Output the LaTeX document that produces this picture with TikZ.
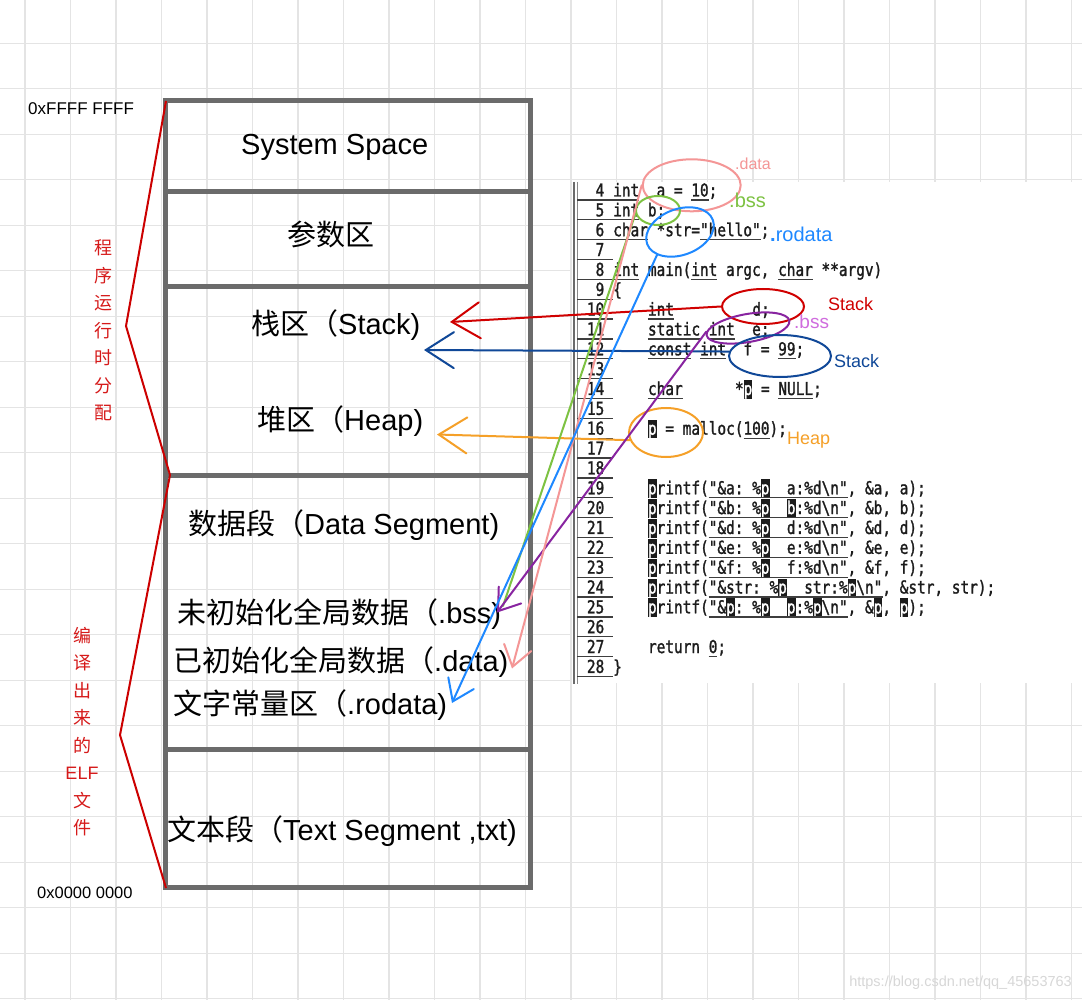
\documentclass[tikz,border=0pt]{standalone}
\usepackage{fontspec}
\setmainfont{Liberation Sans}
\newfontfamily\cjk{Noto Sans CJK SC}
\newfontfamily\codefont[FakeStretch=0.81,FakeBold=1.4]{DejaVu Sans Mono}
\usetikzlibrary{shapes.geometric,arrows.meta}
\definecolor{gridc}{RGB}{228,228,228}
\definecolor{boxc}{RGB}{107,107,107}
\definecolor{brk}{RGB}{204,0,0}
\definecolor{redtxt}{RGB}{214,26,26}
\definecolor{pinkc}{RGB}{244,150,150}
\definecolor{greenc}{RGB}{125,194,66}
\definecolor{bluec}{RGB}{30,136,255}
\definecolor{redc}{RGB}{208,0,0}
\definecolor{purc}{RGB}{136,36,160}
\definecolor{purl}{RGB}{208,108,222}
\definecolor{dbluec}{RGB}{16,72,152}
\definecolor{orc}{RGB}{245,160,40}
\definecolor{codec}{RGB}{28,28,28}
\definecolor{wmc}{RGB}{215,215,215}
\tikzset{
  gridline/.style={gridc, line width=1.3pt},
  boxline/.style={boxc, line width=5pt},
  boxtxt/.style={anchor=base west, inner sep=0pt, font=\fontsize{29}{34}\selectfont},
  addr/.style={anchor=base west, inner sep=0pt},
  redcol/.style={align=center, text=redtxt, inner sep=0pt, font=\cjk\fontsize{18}{27.5}\selectfont},
  codetxt/.style={anchor=base west, inner sep=0pt, text=codec, font=\codefont\fontsize{17.8}{20}\selectfont},
  codeund/.style={codec!85, line width=1.3pt},
  ell/.style={ellipse, line width=2pt, inner sep=0pt},
  lbl/.style={anchor=base west, inner sep=0pt},
  arrline/.style={line width=2pt, line cap=round, line join=round},
  bigtip/.style={-{Straight Barb[length=28pt,width=36pt,line cap=round]}},
  smalltip/.style={-{Straight Barb[length=20pt,width=28pt,line cap=round]}}
}
\newcommand\codeat[4]{\node[codetxt] (#1) at ({613+#3*8.7},{196.5+(#2-4)*19.85}) {#4};}
\newcommand\codeul[3]{\draw[codeund] ({613+#2*8.7},{200+(#1-4)*19.85}) -- ({613+(#3+1)*8.7},{200+(#1-4)*19.85});}
\newcommand\hp[1]{{\setlength{\fboxsep}{0pt}\colorbox{codec}{\rule[-3.7pt]{0pt}{18.7pt}\textcolor{white}{#1}}}}
\begin{document}
\begin{tikzpicture}[x=1pt,y=-1pt]
\useasboundingbox (0,0) rectangle (1082,1000);
\fill[white] (0,0) rectangle (1082,1000);
% grid
\foreach \i in {0,...,23} {\draw[gridline] ({25+\i*45.5},0) -- ({25+\i*45.5},1000);}
\foreach \j in {0,...,21} {\draw[gridline] (0,{43.3+\j*45.5}) -- (1082,{43.3+\j*45.5});}

% code screenshot
\fill[white] (572,182) rectangle (1082,683);
\draw[boxc, line width=1.6pt] (574,182) -- (574,684);
\draw[boxc!80, line width=1pt] (577.5,182) -- (577.5,684);
\foreach \k in {4,...,28} {
  \node[codetxt, anchor=base east] (n\k) at (604.5,{196.5+(\k-4)*19.85}) {\k};
  \draw[codeund] (577,{200+(\k-4)*19.85}) -- (613,{200+(\k-4)*19.85});
}
\codeat{c4}{4}{0}{int\ \ a\ =\ 10;}
\codeat{c5}{5}{0}{int\ b;}
\codeat{c6}{6}{0}{char\ *str="hello";}
\codeat{c8}{8}{0}{int\ main(int\ argc,\ char\ **argv)}
\codeat{c9}{9}{0}{\{}
\codeat{c10a}{10}{4}{int}
\codeat{c10b}{10}{16}{d;}
\codeat{c11}{11}{4}{static\ int\ \ e;}
\codeat{c12}{12}{4}{const\ int\ \ f\ =\ 99;}
\codeat{c14a}{14}{4}{char}
\codeat{c14b}{14}{14}{*\hp{p}\ =\ NULL;}
\codeat{c16}{16}{4}{\hp{p}\ =\ malloc(100);}
\codeat{c19}{19}{4}{\hp{p}rintf("\&a:\ \%\hp{p}\ \ a:\%d\textbackslash n",\ \&a,\ a);}
\codeat{c20}{20}{4}{\hp{p}rintf("\&b:\ \%\hp{p}\ \ \hp{b}:\%d\textbackslash n",\ \&b,\ b);}
\codeat{c21}{21}{4}{\hp{p}rintf("\&d:\ \%\hp{p}\ \ d:\%d\textbackslash n",\ \&d,\ d);}
\codeat{c22}{22}{4}{\hp{p}rintf("\&e:\ \%\hp{p}\ \ e:\%d\textbackslash n",\ \&e,\ e);}
\codeat{c23}{23}{4}{\hp{p}rintf("\&f:\ \%\hp{p}\ \ f:\%d\textbackslash n",\ \&f,\ f);}
\codeat{c24}{24}{4}{\hp{p}rintf("\&str:\ \%\hp{p}\ \ str:\%\hp{p}\textbackslash n",\ \&str,\ str);}
\codeat{c25}{25}{4}{\hp{p}rintf("\&\hp{p}:\ \%\hp{p}\ \ \hp{p}:\%\hp{p}\textbackslash n",\ \&\hp{p},\ \hp{p});}
\codeat{c27}{27}{4}{return\ 0;}
\codeat{c28}{28}{0}{\}}
% underlines
\codeul{4}{0}{2} \codeul{4}{9}{10}
\codeul{5}{0}{2}
\codeul{6}{0}{3} \codeul{6}{10}{16}
\codeul{8}{0}{2} \codeul{8}{9}{11} \codeul{8}{19}{22}
\codeul{10}{4}{6}
\codeul{11}{4}{9} \codeul{11}{11}{13}
\codeul{12}{4}{8} \codeul{12}{10}{12} \codeul{12}{19}{20}
\codeul{14}{4}{7} \codeul{14}{19}{22}
\codeul{16}{15}{17}
\foreach \k in {19,20,21,22,23,25} {\codeul{\k}{11}{26}}
\codeul{24}{11}{30}
\codeul{27}{11}{11}

% memory layout box
\draw[boxline] (165,101) rectangle (530,887);
\draw[boxline] (165,191.5) -- (530,191.5);
\draw[boxline] (165,286.5) -- (530,286.5);
\draw[boxline] (165,475) -- (530,475);
\draw[boxline] (165,749) -- (533,749);

\node[boxtxt] (tSys) at (241,155) {System Space};
\node[boxtxt] (tArg) at (287,246) {\cjk 参数区};
\node[boxtxt] (tStack) at (251,335) {{\cjk 栈区（}Stack)};
\node[boxtxt] (tHeap) at (257,430) {{\cjk 堆区（}Heap)};
\node[boxtxt] (tData) at (188,534) {{\cjk 数据段（}Data Segment)};
\node[boxtxt] (tBss) at (177,623) {{\cjk 未初始化全局数据（}.bss)};
\node[boxtxt] (tDat) at (173,671.5) {{\cjk 已初始化全局数据（}.data)};
\node[boxtxt] (tRo) at (173,714) {{\cjk 文字常量区（}.rodata)};
\node[boxtxt] (tText) at (167,840) {{\cjk 文本段（}Text Segment ,txt)};

% addresses
\node[addr, font=\fontsize{17}{20}\selectfont] (aTop) at (28,115) {0xFFFF FFFF};
\node[addr, font=\fontsize{16.5}{20}\selectfont] (aBot) at (37,898) {0x0000 0000};

% red brackets and labels
\draw[brk, line width=2pt, line join=miter] (166,101) -- (126,326) -- (170,475) -- (120,735) -- (166,888);
\node[redcol] (rRun) at (103,330.5) {程\\序\\运\\行\\时\\分\\配};
\node[redcol] (rElf) at (82,731.5) {编\\译\\出\\来\\的\\{\rmfamily ELF}\\文\\件};

% ellipses in the listing
\node[ell, draw=pinkc, minimum width=98pt, minimum height=52pt] (ePink) at (691.7,185.3) {};
\node[ell, draw=greenc, minimum width=44pt, minimum height=29pt] (eGreen) at (658,210.5) {};
\node[ell, draw=bluec, minimum width=70pt, minimum height=46pt, rotate=20] (eBlue) at (680,232) {};
\node[ell, draw=redc, minimum width=82pt, minimum height=35pt] (eRed) at (763,306.5) {};
\node[ell, draw=purc, minimum width=84pt, minimum height=28pt, rotate=10] (ePur) at (748,328) {};
\node[ell, draw=dbluec, minimum width=102pt, minimum height=42pt] (eDB) at (780,356) {};
\node[ell, draw=orc, minimum width=74pt, minimum height=49pt] (eOr) at (666,432.5) {};

% labels
\node[lbl, text=pinkc, font=\fontsize{16}{18}\selectfont] (lData) at (735,170) {.data};
\node[lbl, text=greenc, font=\fontsize{20}{22}\selectfont] (lBss) at (729,207.3) {.bss};
\node[lbl, text=bluec, font=\fontsize{20}{22}\selectfont] (lRo) at (770,241.7) {{\bfseries .}rodata};
\node[lbl, text=redc, font=\fontsize{18}{20}\selectfont] (lStack) at (828,311) {Stack};
\node[lbl, text=purl, font=\fontsize{19}{21}\selectfont] (lBss2) at (794,328.3) {.bss};
\node[lbl, text=dbluec, font=\fontsize{18}{20}\selectfont] (lStack2) at (834,367.5) {Stack};
\node[lbl, text=orc, font=\fontsize{18}{20}\selectfont] (lHeap) at (787,444) {Heap};

% arrows
\coordinate (tRed) at (450,322);
\coordinate (tDB) at (424,350);
\coordinate (tOr) at (437,434.5);
\coordinate (tPur) at (497,612.5);
\coordinate (tGr) at (503,606);
\coordinate (tPk) at (512,668.5);
\coordinate (tBl) at (452,703);
\draw[redc, arrline, bigtip] (eRed.west) -- (tRed);
\draw[dbluec, arrline, bigtip] (eDB.175) -- (tDB);
\draw[orc, arrline, bigtip] (eOr.192) -- (tOr);
\draw[greenc, arrline] (eGreen.188) -- (tGr);
\draw[purc, arrline, smalltip] (ePur.175) -- (tPur);
\draw[pinkc, arrline, smalltip] (ePink.west) -- (tPk);
\draw[bluec, arrline, smalltip] (eBlue.205) -- (tBl);

% watermark
\node[anchor=base east, inner sep=0pt, text=wmc, font=\fontsize{14.5}{16}\selectfont] (wm) at (1072,986) {https://blog.csdn.net/qq\_45653763};
\end{tikzpicture}
\end{document}
